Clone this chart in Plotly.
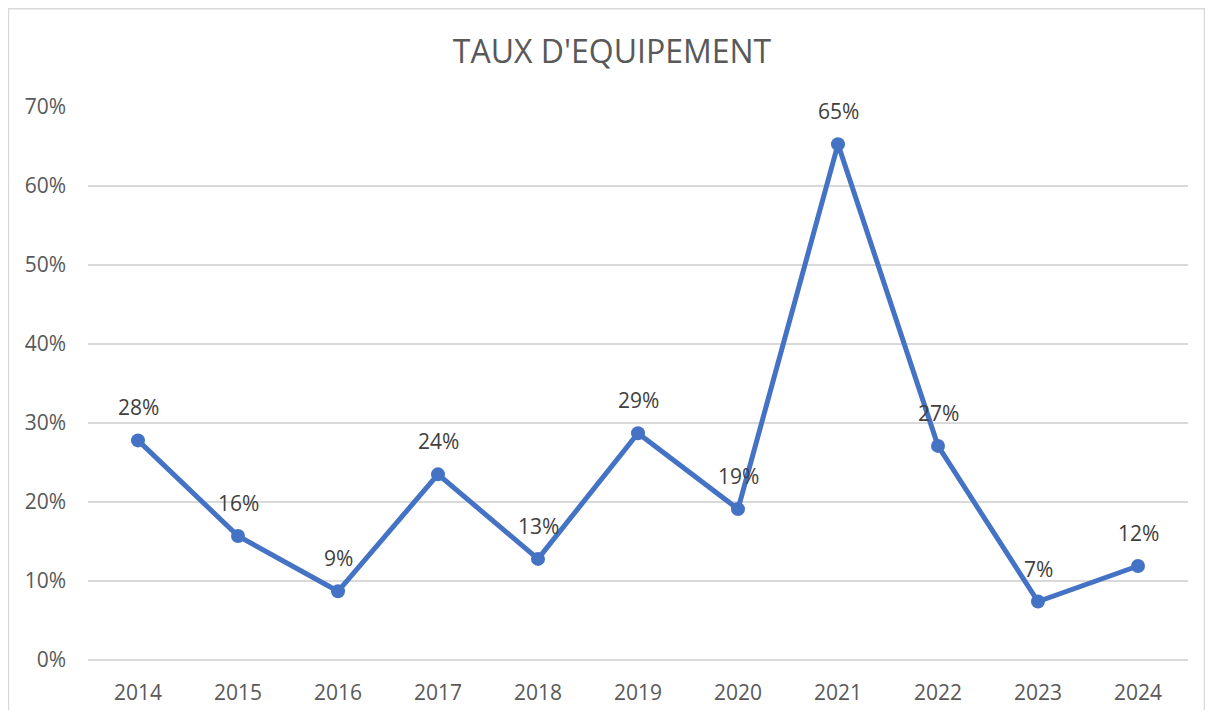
import plotly.graph_objects as go

years = ["2014", "2015", "2016", "2017", "2018", "2019", "2020", "2021", "2022", "2023", "2024"]
rates = [0.278, 0.157, 0.087, 0.235, 0.128, 0.287, 0.191, 0.653, 0.271, 0.074, 0.119]
y_ticks = [0, 0.1, 0.2, 0.3, 0.4, 0.5, 0.6, 0.7]
y_tick_labels = ["0%", "10%", "20%", "30%", "40%", "50%", "60%", "70%"]
title_text = "TAUX D'EQUIPEMENT"

FONT = "Open Sans, Liberation Sans, sans-serif"

fig = go.Figure()
fig.add_trace(go.Scatter(
    x=years, y=rates,
    mode="lines+markers",
    line=dict(color="#4472C4", width=5),
    marker=dict(color="#4472C4", size=14),
    cliponaxis=False,
    showlegend=False,
    hoverinfo="x+y",
))

annotations = [
    dict(x=i, y=v, xref="x", yref="y", text=f"{round(v * 100):.0f}%", showarrow=False,
         yshift=33, font=dict(family=FONT, size=21, color="#404040"))
    for i, v in enumerate(rates)
]

fig.update_layout(
    width=1197, height=702,
    margin=dict(l=80, r=17, t=99, b=50, autoexpand=False),
    paper_bgcolor="white", plot_bgcolor="white",
    title=dict(text=title_text, x=0.5046, xanchor="center", y=0.937, yanchor="middle",
               font=dict(family=FONT, size=32, color="#595959")),
    xaxis=dict(type="category", range=[-0.5, 10.5], showgrid=False, showline=False,
               ticks="", ticklabelstandoff=18, automargin=False,
               tickfont=dict(family=FONT, size=21, color="#595959")),
    yaxis=dict(range=[0, 0.7], tickvals=y_ticks, ticktext=y_tick_labels, automargin=False,
               showgrid=True, gridcolor="#D9D9D9", gridwidth=1.5, zeroline=True, zerolinecolor="#D9D9D9",
               zerolinewidth=1.5, showline=False, ticks="", ticklabelstandoff=21,
               tickfont=dict(family=FONT, size=21, color="#595959")),
    annotations=annotations,
    shapes=[dict(type="rect", xref="paper", yref="paper", x0=-0.0723, x1=1.015, y0=-0.2, y1=1.1777,
                 line=dict(color="#D9D9D9", width=1.5), fillcolor="rgba(0,0,0,0)", layer="below")],
)

fig.write_html("out.html")
